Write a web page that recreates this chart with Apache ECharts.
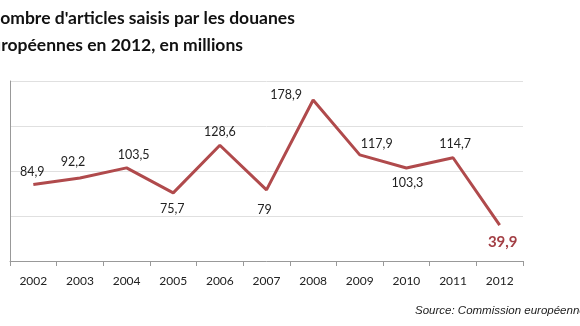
<!DOCTYPE html>
<html><head><meta charset="utf-8">
<script src="https://cdn.jsdelivr.net/npm/echarts@6/dist/echarts.min.js"></script>
<style>html,body{margin:0;padding:0;background:#fff}#c{width:580px;height:326px}</style>
</head><body><div id="c"></div>
<script>
const years = ['2002','2003','2004','2005','2006','2007','2008','2009','2010','2011','2012'];
const values = [84.9, 92.2, 103.5, 75.7, 128.6, 79, 178.9, 117.9, 103.3, 114.7, 39.9];
const titleLines = ["Nombre d'articles saisis par les douanes", "européennes en 2012, en millions"];
const sourceText = 'Source: Commission européenne';

// label placement per point (style only)
const labelOffsets = [[-1,0],[-7,-4],[7,0],[-1,4],[0,-1],[-2,8],[-27,7],[17,2],[1,2],[2,-1],[3,4]];
const labelPos = ['top','top','top','bottom','top','bottom','top','top','bottom','top','bottom'];

const fmt = v => String(v).replace('.', ',');
const lineColor = '#b04a4c';

const data = values.map((v,i) => {
  const last = i === values.length - 1;
  return {
    value: v,
    label: {
      show: true,
      position: labelPos[i],
      offset: labelOffsets[i],
      distance: 6,
      formatter: p => fmt(p.value),
      color: last ? '#a33f45' : '#222',
      fontWeight: last ? 'bold' : 'normal',
      fontSize: last ? 15 : 12.5,
      fontFamily: 'Lato, "Open Sans", sans-serif'
    }
  };
});

const chart = echarts.init(document.getElementById('c'), null, {renderer:'canvas'});
chart.setOption({
  animation: false,
  grid: {left: 10, right: 57, top: 81, bottom: 65},
  xAxis: {
    type: 'category',
    data: years,
    boundaryGap: true,
    axisLine: {lineStyle: {color: '#999', width: 1}},
    axisTick: {show: true, length: 5, lineStyle: {color: '#999'}},
    axisLabel: {color: '#222', fontSize: 12, margin: 14, fontFamily: 'Lato, "Open Sans", sans-serif'}
  },
  yAxis: {
    type: 'value',
    min: 0, max: 200, interval: 50,
    axisLine: {show: true, lineStyle: {color: '#999'}},
    axisTick: {show: false},
    axisLabel: {show: false},
    splitLine: {lineStyle: {color: '#e0e0e0'}}
  },
  series: [{
    type: 'line',
    data: data,
    symbol: 'circle',
    symbolSize: 0.01,
    showSymbol: true,
    lineStyle: {color: lineColor, width: 3},
    itemStyle: {color: lineColor}
  }],
  graphic: [
    {type: 'text', left: -13, top: 9, style: {text: titleLines[0], font: 'bold 17.5px Lato, "Open Sans", sans-serif', fill: '#111'}},
    {type: 'text', left: -18, top: 36, style: {text: titleLines[1], font: 'bold 17.5px Lato, "Open Sans", sans-serif', fill: '#111'}},
    {type: 'text', left: 415, top: 305, style: {text: sourceText, font: 'italic 11.5px "Liberation Sans", Arial, sans-serif', fill: '#222'}}
  ]
});
</script></body></html>
